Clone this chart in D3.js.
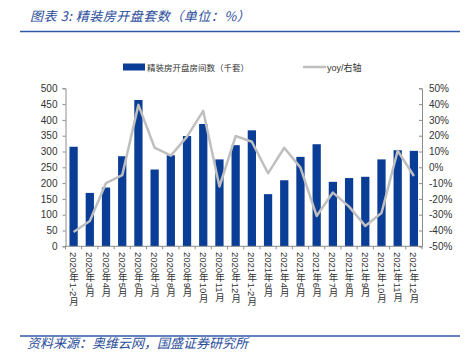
<!DOCTYPE html>
<html><head><meta charset="utf-8">
<script src="https://cdn.jsdelivr.net/npm/d3@7"></script>
<style>
html,body{margin:0;padding:0;background:#fff;}
svg{display:block;}
</style></head>
<body>
<svg id="c" width="468" height="355"></svg>
<script>
const categories = ["2020年1-2月","2020年3月","2020年4月","2020年5月","2020年6月","2020年7月","2020年8月","2020年9月","2020年10月","2020年11月","2020年12月",
  "2021年1-2月","2021年3月","2021年4月","2021年5月","2021年6月","2021年7月","2021年8月","2021年9月","2021年10月","2021年11月","2021年12月"];
const units = [315,169,186,285,463,243,288,349,387,275,320,367,165,209,283,323,204,216,220,275,304,302];
const yoy = [-41,-34,-10,-5,39.5,12.4,7.4,19.4,35.7,-12.2,19.8,16.2,-3.8,12.4,-0.2,-30.8,-16,-24.9,-37.1,-28.9,10.5,-5.5];
const leftTicks = [0,50,100,150,200,250,300,350,400,450,500];
const rightTicks = [-50,-40,-30,-20,-10,0,10,20,30,40,50];
const titleText = "图表 3:  精装房开盘套数（单位：%）";
const sourceText = "资料来源：奥维云网，国盛证券研究所";
const legendBar = "精装房开盘房间数（千套）";
const legendLine = "yoy/右轴";

const svg = d3.select("#c");
const blue = "#0A3D96", gray = "#BFBFBF", axisCol = "#8C8C8C", textCol = "#333";
const font = "'Liberation Sans','Noto Sans CJK SC',sans-serif";
const cjk = "'Noto Sans CJK SC',sans-serif";

const x0 = 65.5, x1 = 422, yTop = 88.3, yBot = 246.3;
const x = d3.scaleBand().domain(categories).range([x0, x1]).paddingInner(0.49).paddingOuter(0.245);
const yL = d3.scaleLinear().domain([0,500]).range([yBot, yTop]);
const yR = d3.scaleLinear().domain([-50,50]).range([yBot, yTop]);

// title
svg.append("text").attr("x",30).attr("y",21).text(titleText)
  .attr("font-family",cjk).attr("font-size",13).attr("font-style","italic").attr("letter-spacing",0.5).attr("fill","#2A4C9A");
svg.append("line").attr("x1",20).attr("x2",460).attr("y1",31.5).attr("y2",31.5).attr("stroke","#2F5AA8").attr("stroke-width",1.5);

// legend
svg.append("rect").attr("x",123).attr("y",63.5).attr("width",22).attr("height",7).attr("fill",blue);
svg.append("text").attr("x",147).attr("y",70.5).text(legendBar).attr("font-family",cjk).attr("font-size",8.5).attr("fill",textCol);
svg.append("line").attr("x1",303).attr("x2",326).attr("y1",67).attr("y2",67).attr("stroke",gray).attr("stroke-width",2.5);
svg.append("text").attr("x",327).attr("y",70.5).text(legendLine).attr("font-family",font).attr("font-size",9).attr("fill",textCol);

// bars
svg.append("g").selectAll("rect").data(units).join("rect")
  .attr("x",(d,i)=>x(categories[i])).attr("width",x.bandwidth())
  .attr("y",d=>yL(d)).attr("height",d=>yBot-yL(d)).attr("fill",blue);

// line
const line = d3.line().x((d,i)=>x(categories[i])+x.bandwidth()/2).y(d=>yR(d));
svg.append("path").datum(yoy).attr("d",line).attr("fill","none").attr("stroke",gray).attr("stroke-width",2.5).attr("stroke-linejoin","round");

// left axis
const gL = svg.append("g").attr("transform",`translate(${x0},0)`)
  .call(d3.axisLeft(yL).tickValues(leftTicks).tickSize(3).tickPadding(5));
gL.select(".domain").attr("stroke",axisCol);
gL.selectAll(".tick line").attr("stroke",axisCol);
gL.selectAll("text").attr("font-family",font).attr("font-size",10).attr("fill",textCol);

// right axis
const gR = svg.append("g").attr("transform",`translate(${x1},0)`)
  .call(d3.axisRight(yR).tickValues(rightTicks).tickSize(-3).tickPadding(7).tickFormat(d=>d+"%"));
gR.select(".domain").attr("stroke",axisCol);
gR.selectAll(".tick line").attr("stroke",axisCol);
gR.selectAll("text").attr("font-family",font).attr("font-size",10).attr("fill",textCol);

// x axis
const gX = svg.append("g");
gX.append("line").attr("x1",x0).attr("x2",x1).attr("y1",yBot).attr("y2",yBot).attr("stroke",axisCol);
const step = x.step();
gX.selectAll("line.t").data(d3.range(categories.length+1)).join("line").attr("class","t")
  .attr("x1",i=>x0+i*step).attr("x2",i=>x0+i*step).attr("y1",yBot).attr("y2",yBot+3).attr("stroke",axisCol);
gX.selectAll("text").data(categories).join("text")
  .attr("transform",d=>`translate(${x(d)+x.bandwidth()/2},252)`)
  .style("writing-mode","vertical-rl")
  .attr("text-anchor","start")
  .attr("font-family",font).attr("font-size",9.5).attr("fill",textCol)
  .text(d=>d);

// footer
svg.append("line").attr("x1",20).attr("x2",460).attr("y1",336).attr("y2",336).attr("stroke","#2F5AA8").attr("stroke-width",1.5);
svg.append("text").attr("x",27).attr("y",348).text(sourceText)
  .attr("font-family",cjk).attr("font-size",13).attr("font-style","italic").attr("fill","#2A4C9A");
</script>
</body></html>
